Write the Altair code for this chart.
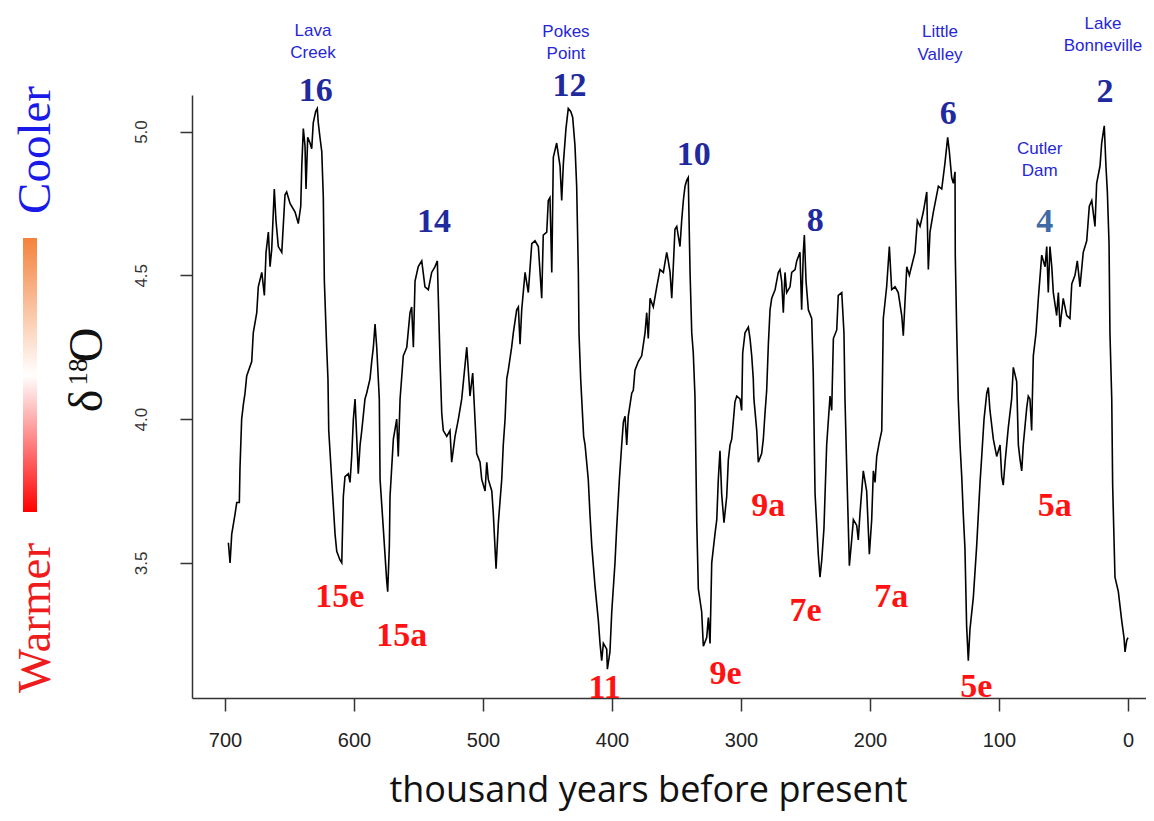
import altair as alt
import pandas as pd

# ---- benthic d18O curve (thousand years before present, per mil) ----
ages = [697.4, 696.1, 694.8, 692.2, 690.9, 688.9, 688.4, 687.1, 685.8, 684.5,
        683.2, 679.3, 678.1, 675.4, 674.2, 671.5, 669.5, 668.2, 666.4, 665.1,
        663.8, 661.8, 660.5, 658.7, 656.0, 653.5, 652.2, 649.6, 645.7, 643.2,
        641.3, 640.5, 639.3, 638.0, 637.2, 635.9, 634.1, 632.8, 631.6, 629.7,
        628.5, 627.7, 626.4, 625.0, 623.8, 623.0, 621.2, 620.2, 619.6, 617.3,
        614.7, 613.4, 610.9, 609.5, 608.3, 607.0, 604.4, 603.1, 601.8, 600.5,
        599.2, 596.7, 595.3, 594.0, 591.5, 590.2, 587.6, 586.3, 585.0, 583.7,
        582.4, 580.4, 579.8, 577.3, 574.7, 573.9, 572.6, 572.1, 569.5, 566.9,
        565.7, 564.3, 561.8, 559.1, 556.6, 555.3, 554.0, 552.7, 550.2, 547.5,
        545.0, 542.4, 539.8, 537.2, 535.4, 534.7, 533.3, 532.0, 530.8, 528.1,
        525.6, 524.3, 521.7, 519.1, 516.5, 512.6, 511.4, 510.1, 508.0, 504.9,
        502.3, 501.0, 498.4, 497.1, 495.9, 493.2, 492.0, 489.9, 488.1, 485.5,
        484.3, 482.9, 481.6, 480.4, 477.8, 476.5, 473.9, 472.6, 471.3, 470.0,
        467.4, 464.9, 462.2, 459.7, 457.1, 454.5, 453.3, 450.6, 449.4, 448.1,
        446.7, 445.5, 442.9, 440.3, 439.0, 437.7, 435.7, 433.9, 432.0, 430.5,
        428.7, 427.4, 426.1, 425.6, 424.3, 422.0, 420.9, 418.4, 417.1, 415.7,
        413.2, 410.6, 409.3, 408.0, 406.7, 404.1, 403.6, 401.6, 400.2, 397.7,
        396.4, 394.3, 392.5, 391.2, 389.9, 388.6, 387.4, 384.7, 383.5, 382.2,
        379.6, 377.0, 374.4, 373.1, 371.9, 370.5, 368.0, 365.3, 362.8, 360.2,
        357.6, 356.4, 355.0, 353.7, 352.5, 351.2, 349.8, 347.3, 346.0, 344.7,
        343.4, 342.1, 340.9, 339.5, 338.2, 337.0, 335.7, 334.3, 333.1, 330.5,
        329.2, 326.6, 325.3, 324.0, 322.7, 320.2, 318.8, 317.6, 316.3, 315.0,
        313.2, 311.1, 309.8, 308.5, 307.2, 306.0, 304.7, 303.3, 300.8, 299.5,
        298.7, 296.9, 294.3, 293.0, 291.7, 290.5, 290.0, 287.8, 286.6, 284.0,
        282.7, 281.4, 280.1, 278.8, 277.5, 276.2, 273.6, 271.1, 269.8, 268.5,
        267.2, 265.9, 264.6, 262.0, 260.7, 258.1, 256.8, 254.3, 253.0, 251.7,
        250.9, 249.6, 247.8, 245.2, 244.0, 242.6, 240.1, 238.8, 237.4, 235.7,
        233.6, 231.0, 229.7, 228.4, 225.8, 224.6, 221.9, 220.2, 219.4, 218.1,
        216.0, 214.2, 212.9, 210.3, 209.1, 207.8, 205.2, 202.6, 200.5, 198.7,
        197.4, 196.1, 194.8, 192.8, 190.9, 189.7, 187.1, 185.0, 183.2, 180.6,
        178.1, 175.4, 174.2, 171.5, 169.5, 165.1, 163.3, 161.2, 158.7, 156.0,
        154.8, 153.5, 150.9, 147.0, 144.4, 141.9, 139.8, 138.5, 136.7, 135.4,
        134.1, 133.9, 132.8, 131.6, 130.2, 128.9, 127.7, 126.4, 125.1, 123.8,
        122.5, 119.9, 117.3, 114.7, 113.4, 111.6, 109.5, 108.3, 107.0, 104.4,
        101.8, 99.2, 97.9, 96.7, 95.3, 92.8, 90.2, 88.9, 86.3, 85.0,
        83.7, 82.4, 81.2, 78.5, 77.3, 76.0, 74.7, 73.4, 71.3, 69.5,
        66.9, 64.3, 63.0, 61.8, 60.5, 59.1, 57.9, 55.3, 54.0, 52.7,
        50.2, 47.5, 45.0, 43.6, 41.1, 39.3, 37.2, 34.7, 32.0, 30.0,
        28.1, 25.6, 24.3, 21.7, 20.4, 19.1, 18.4, 17.1, 16.0, 14.7,
        14.0, 12.6, 11.9, 10.1, 7.5, 4.9, 3.1, 2.3, 1.0, 0.0]

d18o = [3.57, 3.50, 3.60, 3.67, 3.71, 3.71, 3.83, 4.00, 4.05, 4.09,
        4.15, 4.20, 4.30, 4.37, 4.46, 4.51, 4.43, 4.58, 4.65, 4.53,
        4.59, 4.80, 4.69, 4.60, 4.58, 4.78, 4.79, 4.75, 4.72, 4.68,
        4.74, 4.88, 5.01, 4.95, 4.80, 4.98, 4.96, 4.94, 5.03, 5.07,
        5.08, 5.03, 4.98, 4.93, 4.77, 4.48, 4.25, 4.14, 3.96, 3.79,
        3.60, 3.54, 3.51, 3.50, 3.73, 3.80, 3.81, 3.78, 3.87, 4.00,
        4.07, 3.81, 3.91, 3.96, 4.07, 4.09, 4.14, 4.20, 4.25, 4.33,
        4.25, 4.07, 3.79, 3.62, 3.44, 3.40, 3.56, 3.73, 3.93, 4.00,
        3.87, 4.07, 4.22, 4.25, 4.37, 4.39, 4.25, 4.48, 4.53, 4.55,
        4.46, 4.45, 4.51, 4.53, 4.55, 4.43, 4.20, 4.02, 3.96, 3.94,
        3.96, 3.85, 3.94, 4.00, 4.07, 4.25, 4.17, 4.08, 4.16, 3.88,
        3.85, 3.79, 3.75, 3.85, 3.79, 3.75, 3.67, 3.48, 3.64, 3.79,
        3.91, 4.00, 4.14, 4.17, 4.25, 4.30, 4.38, 4.39, 4.26, 4.38,
        4.51, 4.44, 4.61, 4.62, 4.60, 4.42, 4.64, 4.65, 4.76, 4.77,
        4.51, 4.91, 4.96, 4.88, 4.76, 4.89, 5.01, 5.08, 5.07, 5.05,
        4.95, 4.81, 4.51, 4.30, 4.14, 3.94, 3.91, 3.79, 3.67, 3.56,
        3.42, 3.30, 3.22, 3.16, 3.22, 3.20, 3.13, 3.19, 3.33, 3.50,
        3.62, 3.79, 3.91, 3.99, 4.01, 3.91, 4.01, 4.09, 4.10, 4.17,
        4.20, 4.22, 4.30, 4.37, 4.28, 4.42, 4.39, 4.46, 4.52, 4.51,
        4.58, 4.55, 4.51, 4.42, 4.53, 4.66, 4.67, 4.60, 4.69, 4.76,
        4.81, 4.83, 4.84, 4.51, 4.30, 4.23, 4.08, 3.64, 3.41, 3.33,
        3.21, 3.24, 3.31, 3.22, 3.50, 3.60, 3.65, 3.79, 3.89, 3.74,
        3.64, 3.73, 3.86, 3.91, 3.93, 3.99, 4.06, 4.08, 4.07, 4.03,
        4.23, 4.30, 4.32, 4.28, 4.22, 4.14, 4.07, 3.96, 3.85, 3.88,
        3.93, 4.02, 4.10, 4.26, 4.38, 4.42, 4.45, 4.51, 4.52, 4.48,
        4.37, 4.51, 4.44, 4.46, 4.51, 4.52, 4.55, 4.58, 4.38, 4.58,
        4.64, 4.48, 4.38, 4.35, 4.16, 3.74, 3.53, 3.45, 3.51, 3.62,
        3.91, 4.08, 4.03, 4.28, 4.31, 4.43, 4.44, 4.30, 4.07, 3.84,
        3.49, 3.58, 3.65, 3.63, 3.58, 3.67, 3.82, 3.75, 3.53, 3.65,
        3.82, 3.78, 3.87, 3.92, 3.96, 4.35, 4.46, 4.60, 4.45, 4.46,
        4.44, 4.36, 4.29, 4.53, 4.50, 4.58, 4.69, 4.67, 4.72, 4.79,
        4.52, 4.65, 4.72, 4.81, 4.80, 4.89, 4.98, 4.93, 4.84, 4.82,
        4.86, 4.57, 4.31, 4.07, 3.91, 3.80, 3.67, 3.55, 3.28, 3.16,
        3.27, 3.38, 3.56, 3.78, 3.87, 4.00, 4.09, 4.11, 4.03, 3.93,
        3.87, 3.91, 3.80, 3.77, 3.85, 3.97, 4.07, 4.18, 4.13, 3.91,
        3.86, 3.82, 3.91, 4.04, 4.08, 4.07, 3.96, 4.22, 4.30, 4.42,
        4.57, 4.53, 4.60, 4.44, 4.60, 4.53, 4.44, 4.36, 4.44, 4.32,
        4.42, 4.36, 4.35, 4.47, 4.50, 4.55, 4.46, 4.58, 4.62, 4.74,
        4.76, 4.67, 4.82, 4.88, 4.96, 5.00, 5.02, 4.88, 4.79, 4.61,
        4.30, 4.07, 3.77, 3.45, 3.40, 3.30, 3.24, 3.19, 3.23, 3.24]

# ---- glacial (cool) stage numbers ----
cool_labels = ["16", "14", "12", "10", "8", "6", "2"]
cool_ages = [629.7, 538.0, 433.0, 336.7, 242.4, 139.3, 17.8]
cool_vals = [5.140, 4.686, 5.159, 4.919, 4.690, 5.062, 5.139]

stage4_labels = ["4"]
stage4_ages = [64.6]
stage4_vals = [4.684]

# ---- interglacial (warm) sub-stage labels ----
warm_labels = ["15e", "15a", "11", "9e", "9a", "7e", "7a", "5e", "5a"]
warm_ages = [611.1, 563.0, 405.7, 312.0, 278.8, 250.0, 183.5, 117.6, 56.8]
warm_vals = [3.380, 3.245, 3.065, 3.114, 3.696, 3.334, 3.380, 3.069, 3.699]

# ---- lake-cycle names (one entry per text line) ----
place_lines = ["Lava", "Creek", "Pokes", "Point", "Little", "Valley",
               "Cutler", "Dam", "Lake", "Bonneville"]
place_ages = [631.8, 631.8, 435.7, 435.7, 145.7, 145.7, 68.5, 68.5, 19.4, 19.4]
place_vals = [5.350, 5.272, 5.347, 5.270, 5.346, 5.267, 4.938, 4.863, 5.375, 5.298]

x_ticks = [700, 600, 500, 400, 300, 200, 100, 0]
y_ticks = [3.5, 4.0, 4.5, 5.0]

curve = pd.DataFrame({"age": ages, "d18o": d18o})
cool = pd.DataFrame({"age": cool_ages, "v": cool_vals, "t": cool_labels})
st4 = pd.DataFrame({"age": stage4_ages, "v": stage4_vals, "t": stage4_labels})
warm = pd.DataFrame({"age": warm_ages, "v": warm_vals, "t": warm_labels})
places = pd.DataFrame({"age": place_ages, "v": place_vals, "t": place_lines})
one = pd.DataFrame({"k": [0]})

xscale = alt.Scale(domain=[-13.95, 725.6], reverse=True, nice=False, zero=False)
yscale = alt.Scale(domain=[3.03, 5.127], nice=False, zero=False)

X = alt.X("age:Q", scale=xscale, axis=alt.Axis(
    values=x_ticks, format="d", grid=False,
    labelFont="Liberation Sans", labelFontSize=20, labelColor="#222222",
    labelPadding=19, tickSize=13, tickWidth=1.5, tickColor="#333333",
    domainColor="#333333", domainWidth=1.5,
    title="thousand years before present", titleFont="Open Sans",
    titleFontSize=36, titleFontWeight="normal", titleColor="#111111",
    titleX=456, titleY=103, titleAlign="center", titleBaseline="alphabetic"))

line = alt.Chart(curve).mark_line(color="black", strokeWidth=1.6).encode(
    x=X,
    y=alt.Y("d18o:Q", scale=yscale, axis=alt.Axis(
        values=y_ticks, format=".1f", grid=False, title=None,
        labelAngle=270, labelAlign="center", labelBaseline="alphabetic",
        labelFont="Liberation Sans", labelFontSize=17, labelColor="#333333",
        labelPadding=34, tickSize=12, tickWidth=1.5, tickColor="#333333",
        domainColor="#333333", domainWidth=1.5)),
)

def txt(df, **kw):
    return alt.Chart(df).mark_text(align="center", baseline="middle", **kw).encode(
        x=alt.X("age:Q", scale=xscale),
        y=alt.Y("v:Q", scale=yscale),
        text="t:N")

cool_t = txt(cool, font="Liberation Serif", fontSize=34, fontWeight="bold", color="#1f2a9e")
st4_t = txt(st4, font="Liberation Serif", fontSize=34, fontWeight="bold", color="#3f6aa6")
warm_t = txt(warm, font="Liberation Serif", fontSize=34, fontWeight="bold", color="#ff1212")
place_t = txt(places, font="Liberation Sans", fontSize=17, color="#2626d8")

grad = alt.Gradient(gradient="linear",
                    stops=[alt.GradientStop(color="#f4823c", offset=0),
                           alt.GradientStop(color="#ffffff", offset=0.5),
                           alt.GradientStop(color="#ff0000", offset=1)],
                    x1=0, x2=0, y1=0, y2=1)
bar = alt.Chart(one).mark_rect(fill=grad).encode(
    x=alt.value(-169), x2=alt.value(-155), y=alt.value(143), y2=alt.value(417))

def side(text, xpx, ypx, size, color):
    return alt.Chart(one).mark_text(
        text=text, angle=270, align="center", baseline="alphabetic",
        font="Liberation Serif", fontSize=size, color=color).encode(
        x=alt.value(xpx), y=alt.value(ypx))

cooler = side("Cooler", -142, 55, 47, "#1a1ae8")
warmer = side("Warmer", -142, 523, 47, "#ee1c1c")
delta = side("δ", -90, 306, 48, "#111111")
eighteen = side("18", -105, 277, 27, "#111111")
oh = side("O", -90, 250, 48, "#111111")

chart = alt.layer(line, cool_t, st4_t, warm_t, place_t, bar,
                  cooler, warmer, delta, eighteen, oh).properties(
    width=954, height=603,
    autosize=alt.AutoSizeParams(type="none"),
    padding={"left": 184, "top": 87, "right": 0, "bottom": 115},
    background="white",
).configure_view(stroke=None)

chart.save("out.html", embed_options={"renderer": "svg", "actions": False})
